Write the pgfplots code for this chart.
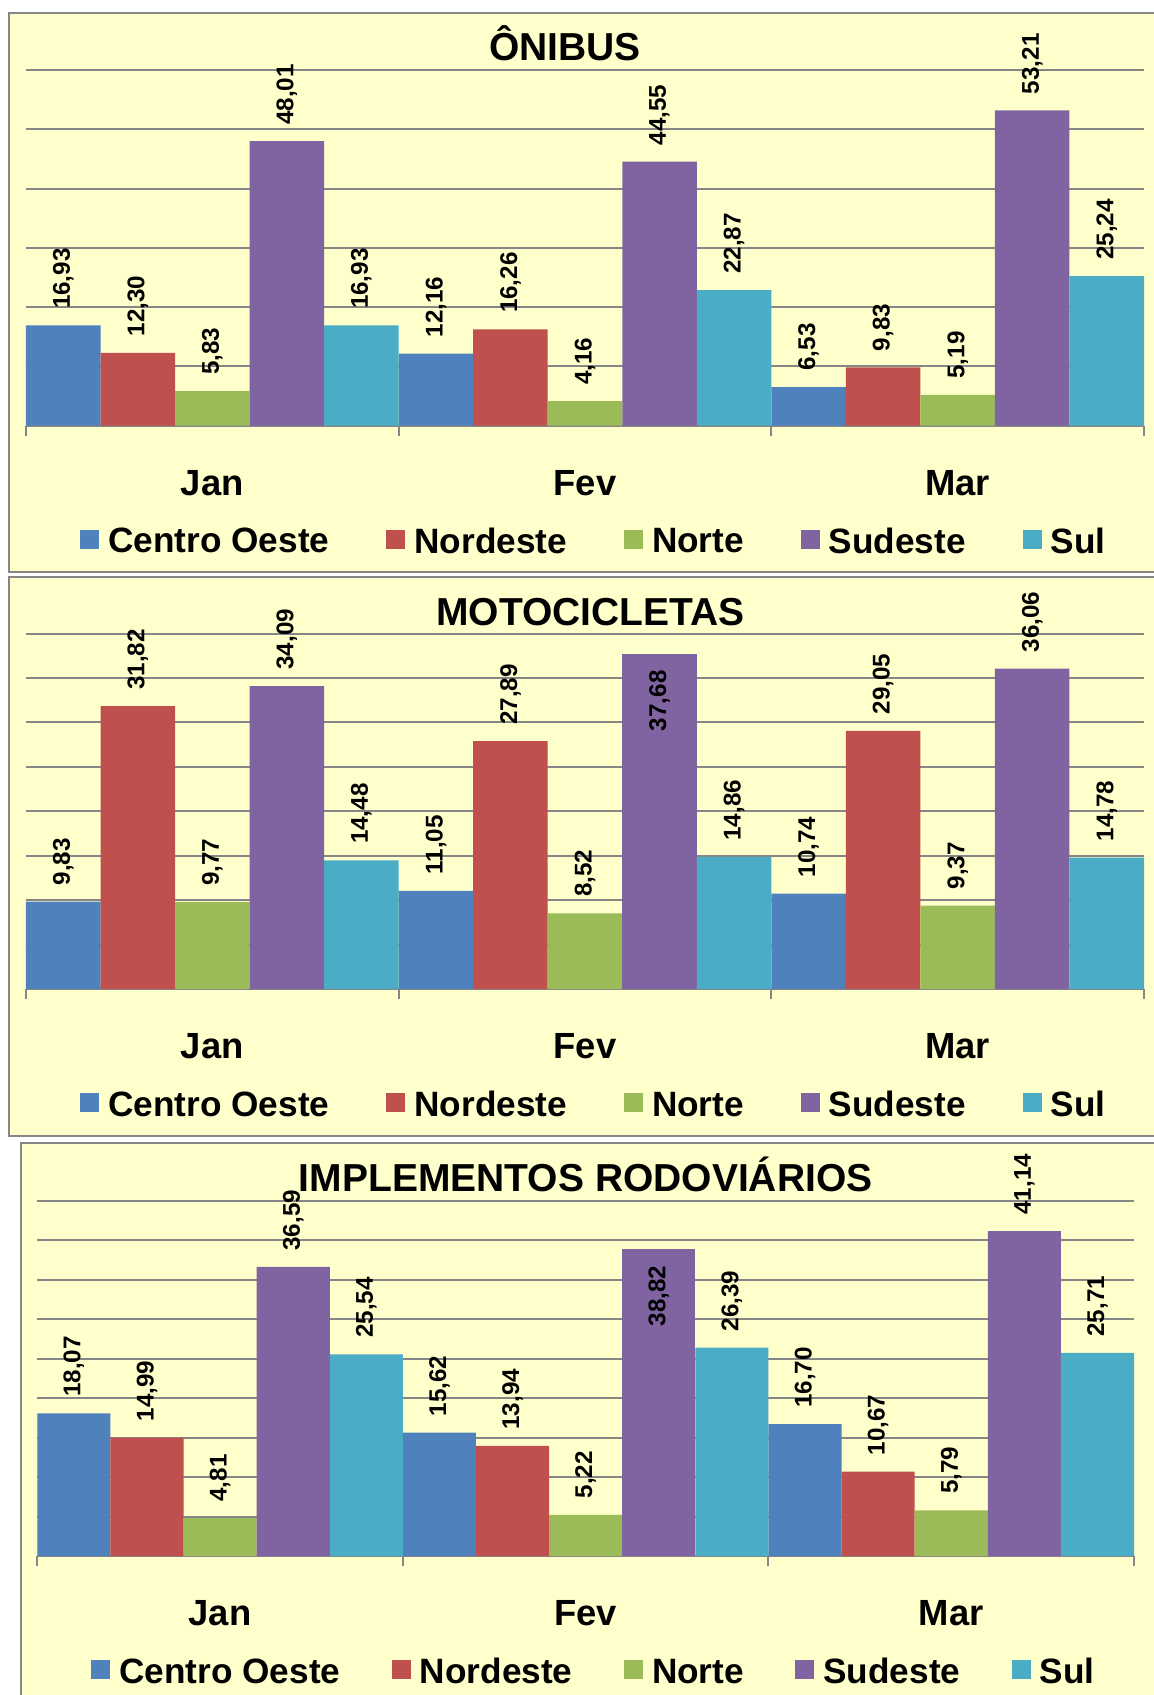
\documentclass[border=0pt]{standalone}
\usepackage{fontspec}
\setmainfont{Liberation Sans}
\usepackage{pgfplots}
\pgfplotsset{compat=1.18}
\definecolor{cCO}{HTML}{4F81BD}
\definecolor{cNE}{HTML}{C0504D}
\definecolor{cN}{HTML}{9BBB59}
\definecolor{cSE}{HTML}{8064A2}
\definecolor{cS}{HTML}{4BACC6}
\definecolor{bg}{HTML}{FFFFCC}
\definecolor{gridc}{HTML}{868686}
\newcommand\titlefont{\fontsize{19.5}{22}\selectfont\bfseries}
\newcommand\catfont{\fontsize{18.2}{21}\selectfont\bfseries}
\newcommand\legfont{\fontsize{17.6}{20}\selectfont\bfseries}
\newcommand\lblfont{\fontsize{12.1}{14}\selectfont\bfseries}
\pgfplotsset{
  sqlegend/.style={legend image code/.code={\fill[##1] (0pt,-3.3pt) rectangle (9.5pt,6.2pt);}},
  panel/.style={
    scale only axis, anchor=south west, height=177.75pt,
    xmin=-0.5, xmax=2.5, ymin=0,
    ybar=0pt, bar width=0.2,
    every axis plot post/.append style={sqlegend},
    clip=false,
    axis line style={draw=none},
    ymajorgrids, grid style={draw=gridc, line width=1pt},
    ytick style={draw=none}, yticklabels={},
    xtick={-0.5,0.5,1.5,2.5}, xticklabels={}, xtick pos=left,
    tick align=outside, major tick length=5pt,
    xtick style={draw=gridc, line width=1pt},
    extra x ticks={0,1,2}, extra x tick labels={Jan,Fev,Mar},
    extra x tick style={major tick length=0pt, tick style={draw=none},
      xticklabel style={anchor=base, yshift=-34.65pt, font=\catfont}},
    nodes near coords={\pgfmathprintnumber[fixed, fixed zerofill, precision=2, use comma, assume math mode=true]{\pgfplotspointmeta}},
    every node near coord/.append style={font=\lblfont, rotate=90, anchor=west, inner xsep=8pt, inner ysep=0pt, text=black},
    legend columns=5,
    legend style={draw=none, fill=none, inner sep=0pt, font=\legfont, anchor=west,
      nodes={inner xsep=4.5pt, inner ysep=0pt}},
  }
}
\begin{document}
\begin{tikzpicture}
\useasboundingbox (0,0) rectangle (577pt,-847.5pt);
\clip (0,0) rectangle (577pt,-847.5pt);
\fill[white] (0,0) rectangle (577pt,-847.5pt);
\filldraw[fill=bg, draw=gridc, line width=0.9pt] (4.65pt,-6.35pt) rectangle (585pt,-286pt);
\filldraw[fill=bg, draw=gridc, line width=0.9pt] (4.65pt,-288.65pt) rectangle (585pt,-568pt);
\filldraw[fill=bg, draw=gridc, line width=0.9pt] (10.35pt,-571.35pt) rectangle (585pt,-855pt);

% Panel 1
\begin{axis}[panel, at={(13pt,-212.85pt)}, width=559pt, ymax=60, ytick={0,10,...,60},
  title={ÔNIBUS},
  every axis title/.style={at={(0.482,1)}, anchor=base, yshift=4.65pt, font=\titlefont},
  legend style={at={(0.0483,-0.3277)}, /tikz/every even column/.append style={column sep=24pt}}]
\addplot[fill=cCO, draw=none, bar shift=-0.4] coordinates {(0,16.93) (1,12.16) (2,6.53)};
\addplot[fill=cNE, draw=none, bar shift=-0.2] coordinates {(0,12.30) (1,16.26) (2,9.83)};
\addplot[fill=cN, draw=none, bar shift=0] coordinates {(0,5.83) (1,4.16) (2,5.19)};
\addplot[fill=cSE, draw=none, bar shift=0.2] coordinates {(0,48.01) (1,44.55) (2,53.21)};
\addplot[fill=cS, draw=none, bar shift=0.4] coordinates {(0,16.93) (1,22.87) (2,25.24)};
\legend{Centro Oeste, Nordeste, Norte, Sudeste, Sul}
\end{axis}

% Panel 2
\begin{axis}[panel, at={(13pt,-494.5pt)}, width=559pt, ymax=40, ytick={0,5,...,40},
  title={MOTOCICLETAS},
  every axis title/.style={at={(0.505,1)}, anchor=base, yshift=4.25pt, font=\titlefont},
  legend style={at={(0.0483,-0.3277)}, /tikz/every even column/.append style={column sep=24pt}}]
\addplot[fill=cCO, draw=none, bar shift=-0.4] coordinates {(0,9.83) (1,11.05) (2,10.74)};
\addplot[fill=cNE, draw=none, bar shift=-0.2] coordinates {(0,31.82) (1,27.89) (2,29.05)};
\addplot[fill=cN, draw=none, bar shift=0] coordinates {(0,9.77) (1,8.52) (2,9.37)};
\addplot[fill=cSE, draw=none, bar shift=0.2] coordinates {(0,34.09) (2,36.06)};
\addplot[fill=cSE, draw=none, bar shift=0.2, forget plot, nodes near coords style={anchor=east}] coordinates {(1,37.68)};
\addplot[fill=cS, draw=none, bar shift=0.4] coordinates {(0,14.48) (1,14.86) (2,14.78)};
\legend{Centro Oeste, Nordeste, Norte, Sudeste, Sul}
\end{axis}

% Panel 3
\begin{axis}[panel, at={(18.65pt,-778pt)}, width=548.35pt, ymax=45, ytick={0,5,...,45},
  title={IMPLEMENTOS RODOVIÁRIOS},
  every axis title/.style={at={(0.5,1)}, anchor=base, yshift=4.6pt, font=\titlefont},
  legend style={at={(0.049,-0.3277)}, /tikz/every even column/.append style={column sep=21.25pt}}]
\addplot[fill=cCO, draw=none, bar shift=-0.4] coordinates {(0,18.07) (1,15.62) (2,16.70)};
\addplot[fill=cNE, draw=none, bar shift=-0.2] coordinates {(0,14.99) (1,13.94) (2,10.67)};
\addplot[fill=cN, draw=none, bar shift=0] coordinates {(0,4.81) (1,5.22) (2,5.79)};
\addplot[fill=cSE, draw=none, bar shift=0.2] coordinates {(0,36.59) (2,41.14)};
\addplot[fill=cSE, draw=none, bar shift=0.2, forget plot, nodes near coords style={anchor=east}] coordinates {(1,38.82)};
\addplot[fill=cS, draw=none, bar shift=0.4] coordinates {(0,25.54) (1,26.39) (2,25.71)};
\legend{Centro Oeste, Nordeste, Norte, Sudeste, Sul}
\end{axis}
\end{tikzpicture}
\end{document}
